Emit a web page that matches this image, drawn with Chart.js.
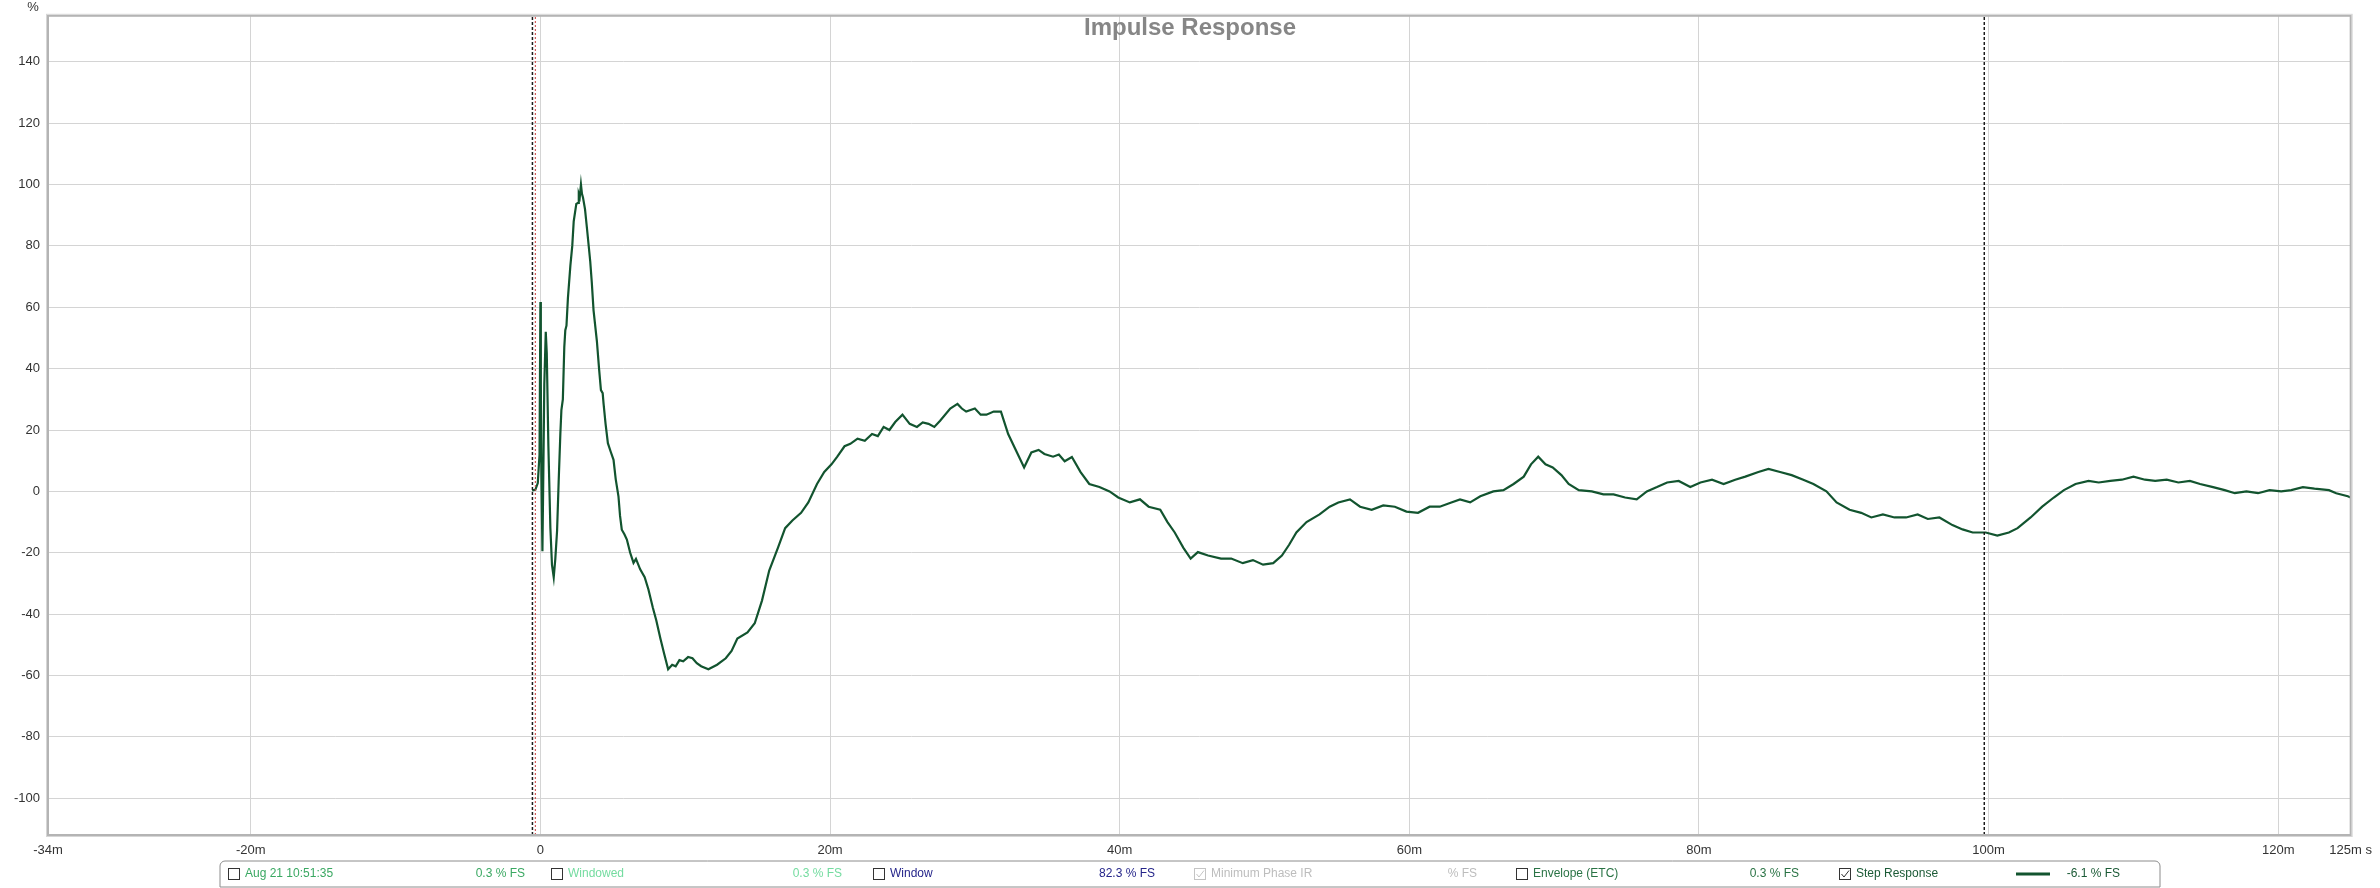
<!DOCTYPE html>
<html>
<head>
<meta charset="utf-8">
<title>Impulse Response</title>
<script src="https://cdn.jsdelivr.net/npm/chart.js@4"></script>
<style>
  html, body { margin: 0; padding: 0; background: #fff; }
  #wrap { width: 2380px; height: 888px; }
</style>
</head>
<body>
<div id="wrap"><canvas id="irChart" width="2380" height="888"></canvas></div>
<script>
// step response, time in ms, value in % FS
const stepTimes = [
  -0.57, -0.35, -0.18, -0.06, 0.0, 0.03, 0.07, 0.14, 0.2, 0.27, 0.37, 0.44, 0.55, 0.69, 0.8, 0.92,
  1.03, 1.15, 1.26, 1.38, 1.45, 1.55, 1.65, 1.72, 1.8, 1.9, 2.07, 2.2, 2.3, 2.48, 2.6, 2.65, 2.72,
  2.8, 2.87, 2.94, 3.08, 3.21, 3.44, 3.55, 3.67, 3.9, 4.05, 4.18, 4.3, 4.36, 4.5, 4.66, 4.85, 5.05,
  5.2, 5.39, 5.5, 5.62, 5.8, 5.97, 6.2, 6.43, 6.6, 6.89, 7.2, 7.46, 7.77, 8.0, 8.29, 8.55, 8.82,
  9.1, 9.34, 9.6, 9.86, 10.2, 10.5, 10.8, 11.1, 11.6, 12.2, 12.8, 13.2, 13.6, 14.3, 14.8, 15.3,
  15.8, 16.4, 16.9, 17.4, 18.0, 18.5, 19.1, 19.6, 20.1, 20.5, 21.0, 21.4, 21.9, 22.4, 22.9, 23.3,
  23.7, 24.1, 24.5, 25.0, 25.5, 26.0, 26.4, 26.8, 27.2, 27.6, 28.3, 28.8, 29.1, 29.4, 30.0, 30.4,
  30.8, 31.3, 31.8, 32.3, 32.8, 33.4, 33.9, 34.4, 34.8, 35.4, 35.8, 36.2, 36.7, 37.3, 37.9, 38.6,
  39.3, 39.9, 40.7, 41.4, 42.0, 42.8, 43.3, 43.8, 44.4, 44.9, 45.4, 46.1, 47.0, 47.7, 48.5, 49.2,
  49.9, 50.6, 51.2, 51.7, 52.2, 52.9, 53.8, 54.5, 55.1, 55.9, 56.6, 57.4, 58.2, 59.0, 59.8, 60.6,
  61.4, 62.1, 62.9, 63.5, 64.2, 64.9, 65.8, 66.5, 67.2, 67.9, 68.4, 68.9, 69.4, 69.9, 70.5, 71.0,
  71.7, 72.6, 73.4, 74.1, 74.9, 75.7, 76.4, 77.1, 77.8, 78.6, 79.4, 80.1, 80.9, 81.7, 82.5, 83.2,
  84.1, 84.8, 85.6, 86.4, 87.2, 87.9, 88.8, 89.5, 90.4, 91.2, 91.9, 92.7, 93.5, 94.3, 95.1, 95.8,
  96.6, 97.5, 98.2, 98.9, 99.8, 100.6, 101.4, 102.0, 102.9, 103.7, 104.5, 105.2, 106.0, 106.9,
  107.6, 108.4, 109.2, 110.0, 110.8, 111.5, 112.3, 113.1, 113.9, 114.6, 115.5, 116.3, 117.0, 117.8,
  118.6, 119.4, 120.2, 120.9, 121.7, 122.5, 123.5, 124.0, 124.8, 125.0
];
const stepValues = [
  0.3, 0.5, 2.7, 12, 61.7, 35, 5, -19.5, 5, 35, 52, 45, 15, -12, -24, -28,
  -22, -13, 3, 19, 26.5, 30, 47, 52.5, 54, 63, 73.6, 80, 88, 93.7, 94, 97, 96,
  100, 97, 95.8, 92, 86, 75, 68, 59, 49, 40, 33, 32, 28.7, 22, 15.7, 13, 10.3,
  4, -1.6, -8, -12.5, -14, -15.7, -20, -23.3, -22, -25.4, -28, -32, -38, -42, -48, -53, -58,
  -56.5, -57, -55, -55.4, -54, -54.4, -56, -57, -58, -56.5, -54.4, -52, -48, -46, -43, -35.6,
  -25.8, -18.4, -12, -9.5, -7, -3.6, 2.4, 6.3, 8.8, 11.3, 14.7, 15.5, 17.2, 16.5, 18.7, 18,
  21, 20, 22.6, 25, 22, 21, 22.5, 22, 21, 23, 27, 28.5, 27, 26, 27, 25,
  25, 26, 26, 18.7, 13.7, 7.8, 12.7, 13.5, 12.2, 11.3, 12, 9.8, 11.2, 6.3, 2.4, 1.4,
  0, -2, -3.6, -2.6, -5, -6, -10, -13.4, -18.4, -21.9, -19.8, -20.9, -21.9, -21.9, -23.4, -22.4,
  -23.9, -23.4, -20.9, -17.4, -13.4, -10, -7.5, -5, -3.6, -2.6, -5, -6, -4.6, -5, -6.6, -7,
  -5, -5, -3.6, -2.6, -3.6, -1.6, 0, 0.4, 2.4, 4.8, 8.8, 11.3, 8.8, 7.8, 5.3, 2.4,
  0.4, 0, -1, -1, -2, -2.6, 0, 1.4, 2.9, 3.4, 1.4, 2.9, 3.8, 2.4, 3.8, 4.8,
  6.3, 7.3, 6.3, 5.3, 3.8, 2.4, 0, -3.6, -6, -7, -8.5, -7.5, -8.5, -8.5, -7.5, -9,
  -8.5, -11, -12.4, -13.4, -13.4, -14.4, -13.4, -12, -8.5, -5, -2, 0.4, 2.4, 3.4,
  2.9, 3.4, 3.8, 4.8, 3.8, 3.4, 3.8, 2.9, 3.4, 2.4, 1.4, 0.4, -0.6, 0,
  -0.6, 0.4, 0, 0.4, 1.4, 0.9, 0.4, -0.6, -1.6, -2
];

const xRange = [-34, 125];
const yRange = [-112, 155];
const xTicks = [-34, -20, 0, 20, 40, 60, 80, 100, 120, 125];
const xTickLabels = ["-34m", "-20m", "0", "20m", "40m", "60m", "80m", "100m", "120m", "125m s"];
const yTicks = [-100, -80, -60, -40, -20, 0, 20, 40, 60, 80, 100, 120, 140];

// window / reference markers (ms)
const markerTimes = [-0.55, -0.35, 99.7];
const markerColors = ["#1a1a1a", "#c83c3c", "#1a1a1a"];

const legendLabels = ["Aug 21 10:51:35", "Windowed", "Window", "Minimum Phase IR", "Envelope (ETC)", "Step Response"];
const legendValues = ["0.3 % FS", "0.3 % FS", "82.3 % FS", "% FS", "0.3 % FS", "-6.1 % FS"];
const legendChecked = [false, false, false, true, false, true];
const legendColors = ["#3aa862", "#74dca0", "#25258a", "#bdbdbd", "#2a7345", "#1b5a36"];

const FONT = "'Liberation Sans', Arial, sans-serif";
const LINE_GREEN = "#12542f";

const stepData = stepTimes.map((t, i) => ({ x: t, y: stepValues[i] }));

const markerSets = markerTimes.map((t, i) => ({
  label: "marker" + i,
  data: [{ x: t, y: yRange[0] }, { x: t, y: yRange[1] }],
  borderColor: markerColors[i],
  borderWidth: i === 1 ? 1 : 1.5,
  borderDash: i === 1 ? [2, 2] : [3, 2],
  pointRadius: 0,
  fill: false,
}));

const framePlugin = {
  id: "frame",
  afterDatasetsDraw(chart) {
    const { ctx, chartArea: a } = chart;
    ctx.save();
    ctx.strokeStyle = "#b4b4b4";
    ctx.lineWidth = 2;
    ctx.strokeRect(a.left, a.top, a.right - a.left, a.bottom - a.top);
    ctx.strokeStyle = "#d6d6d6";
    ctx.lineWidth = 1;
    ctx.strokeRect(a.left - 1.5, a.top - 1.5, a.right - a.left + 3, a.bottom - a.top + 3);
    ctx.restore();
  },
};

function checkbox(ctx, x, y, checked, color) {
  ctx.strokeStyle = color;
  ctx.lineWidth = 1;
  ctx.strokeRect(x + 0.5, y + 0.5, 11, 11);
  if (checked) {
    ctx.beginPath();
    ctx.moveTo(x + 2.5, y + 6);
    ctx.lineTo(x + 5, y + 9);
    ctx.lineTo(x + 10, y + 2.5);
    ctx.stroke();
  }
}

const overlayPlugin = {
  id: "overlay",
  afterDraw(chart) {
    const { ctx } = chart;
    ctx.save();

    // title
    ctx.font = "bold 24px " + FONT;
    ctx.fillStyle = "#868686";
    ctx.textAlign = "center";
    ctx.textBaseline = "middle";
    ctx.fillText("Impulse Response", chart.width / 2, 28);

    // y unit
    ctx.font = "13px " + FONT;
    ctx.fillStyle = "#333";
    ctx.fillText("%", 33, 7);

    // legend box
    const bx = 220, by = 861, bw = 1940, bh = 26, r = 5;
    ctx.beginPath();
    ctx.moveTo(bx + r, by);
    ctx.lineTo(bx + bw - r, by);
    ctx.arcTo(bx + bw, by, bx + bw, by + r, r);
    ctx.lineTo(bx + bw, by + bh);
    ctx.lineTo(bx, by + bh);
    ctx.lineTo(bx, by + r);
    ctx.arcTo(bx, by, bx + r, by, r);
    ctx.closePath();
    ctx.strokeStyle = "#8c8c8c";
    ctx.lineWidth = 1;
    ctx.stroke();

    const labelX = [245, 568, 890, 1211, 1533, 1856];
    const valueRight = [525, 842, 1155, 1477, 1799, 2120];
    const cy = 874;
    ctx.font = "12px " + FONT;
    ctx.textBaseline = "middle";
    legendLabels.forEach((lab, i) => {
      const boxColor = i === 3 ? "#c4c4c4" : "#333";
      checkbox(ctx, labelX[i] - 17, cy - 6, legendChecked[i], boxColor);
      ctx.fillStyle = legendColors[i];
      ctx.textAlign = "left";
      ctx.fillText(lab, labelX[i], cy);
      ctx.textAlign = "right";
      ctx.fillText(legendValues[i], valueRight[i], cy);
    });
    // line swatch for step response
    ctx.strokeStyle = LINE_GREEN;
    ctx.lineWidth = 3;
    ctx.beginPath();
    ctx.moveTo(2016, cy);
    ctx.lineTo(2050, cy);
    ctx.stroke();

    ctx.restore();
  },
};

new Chart(document.getElementById("irChart"), {
  type: "line",
  data: {
    datasets: [
      ...markerSets,
      {
        label: "Step Response",
        data: stepData,
        borderColor: LINE_GREEN,
        borderWidth: 2.2,
        pointRadius: 0,
        tension: 0,
        fill: false,
      },
    ],
  },
  options: {
    responsive: false,
    animation: false,
    devicePixelRatio: 1,
    layout: {
      padding: { left: 0, right: 24, top: 14, bottom: 0 },
    },
    plugins: {
      legend: { display: false },
      title: { display: false },
      tooltip: { enabled: false },
    },
    scales: {
      x: {
        type: "linear",
        min: xRange[0],
        max: xRange[1],
        afterBuildTicks: (scale) => {
          scale.ticks = xTicks.map((v) => ({ value: v }));
        },
        afterFit: (scale) => {
          scale.height = 53;
        },
        grid: { color: "#d4d4d4", lineWidth: 1, drawTicks: false },
        border: { display: false },
        ticks: {
          padding: 8,
          color: "#333",
          font: { family: FONT, size: 13 },
          maxRotation: 0,
          autoSkip: false,
          callback: (v, i) => xTickLabels[i],
        },
      },
      y: {
        min: yRange[0],
        max: yRange[1],
        afterBuildTicks: (scale) => {
          scale.ticks = yTicks.map((v) => ({ value: v }));
        },
        afterFit: (scale) => {
          scale.width = 48;
        },
        grid: { color: "#d4d4d4", lineWidth: 1, drawTicks: false },
        border: { display: false },
        ticks: {
          padding: 8,
          color: "#333",
          font: { family: FONT, size: 13 },
          autoSkip: false,
        },
      },
    },
  },
  plugins: [framePlugin, overlayPlugin],
});
</script>
</body>
</html>
